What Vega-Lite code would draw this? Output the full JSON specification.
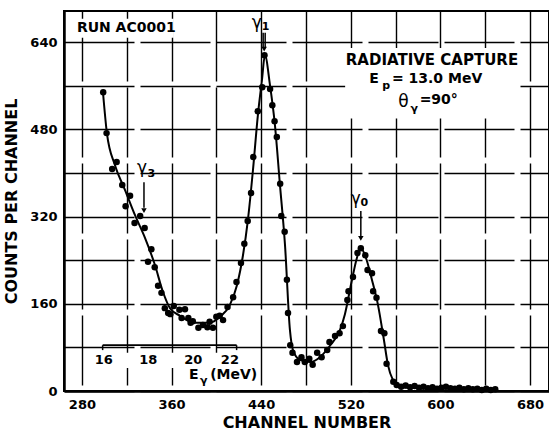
{
  "$schema": "https://vega.github.io/schema/vega-lite/v6.json",
  "width": 485,
  "height": 380,
  "autosize": {"type": "none"},
  "padding": {"left": 64, "top": 11, "right": 0, "bottom": 41},
  "background": "white",
  "config": {
    "font": "DejaVu Sans",
    "view": {"stroke": "black", "strokeWidth": 2},
    "axis": {
      "labelFont": "DejaVu Sans",
      "titleFont": "DejaVu Sans",
      "labelColor": "black",
      "titleColor": "black",
      "labelFontSize": 13,
      "labelFontWeight": "bold",
      "titleFontSize": 16,
      "titleFontWeight": "bold",
      "ticks": false,
      "domainColor": "black",
      "domainWidth": 2.5,
      "grid": true,
      "gridColor": "black",
      "gridOpacity": 1,
      "gridWidth": 1.4,
      "gridDash": [70, 6]
    },
    "text": {"font": "DejaVu Sans", "color": "black", "baseline": "middle", "fontWeight": "bold"}
  },
  "datasets": {
    "counts": [
      {"ch": 299, "n": 548}, {"ch": 302, "n": 473}, {"ch": 307, "n": 407}, {"ch": 311, "n": 420},
      {"ch": 316, "n": 378}, {"ch": 319, "n": 339}, {"ch": 323, "n": 358}, {"ch": 327, "n": 308},
      {"ch": 332, "n": 321}, {"ch": 336, "n": 299}, {"ch": 339, "n": 237}, {"ch": 342, "n": 260},
      {"ch": 345, "n": 227}, {"ch": 348, "n": 193}, {"ch": 351, "n": 180}, {"ch": 354, "n": 152},
      {"ch": 357, "n": 143}, {"ch": 359, "n": 141}, {"ch": 362, "n": 156}, {"ch": 367, "n": 149},
      {"ch": 369, "n": 134}, {"ch": 372, "n": 150}, {"ch": 375, "n": 134}, {"ch": 377, "n": 125},
      {"ch": 379, "n": 128}, {"ch": 384, "n": 116}, {"ch": 388, "n": 121}, {"ch": 392, "n": 117},
      {"ch": 394, "n": 127}, {"ch": 397, "n": 116}, {"ch": 400, "n": 136}, {"ch": 403, "n": 138},
      {"ch": 406, "n": 130}, {"ch": 410, "n": 154}, {"ch": 415, "n": 172}, {"ch": 418, "n": 200},
      {"ch": 422, "n": 235}, {"ch": 425, "n": 270}, {"ch": 428, "n": 312}, {"ch": 431, "n": 363},
      {"ch": 433, "n": 429}, {"ch": 437, "n": 513}, {"ch": 441, "n": 557}, {"ch": 443, "n": 616},
      {"ch": 448, "n": 554}, {"ch": 450, "n": 524}, {"ch": 452, "n": 495}, {"ch": 454, "n": 466},
      {"ch": 457, "n": 380}, {"ch": 458, "n": 321}, {"ch": 461, "n": 292}, {"ch": 463, "n": 204},
      {"ch": 464, "n": 143}, {"ch": 466, "n": 84}, {"ch": 468, "n": 70}, {"ch": 472, "n": 53},
      {"ch": 476, "n": 62}, {"ch": 479, "n": 53}, {"ch": 483, "n": 59}, {"ch": 486, "n": 48},
      {"ch": 490, "n": 70}, {"ch": 494, "n": 62}, {"ch": 499, "n": 75}, {"ch": 501, "n": 90},
      {"ch": 506, "n": 101}, {"ch": 510, "n": 106}, {"ch": 513, "n": 119}, {"ch": 517, "n": 167},
      {"ch": 518, "n": 183}, {"ch": 522, "n": 209}, {"ch": 526, "n": 253}, {"ch": 529, "n": 262},
      {"ch": 533, "n": 249}, {"ch": 535, "n": 222}, {"ch": 539, "n": 216}, {"ch": 540, "n": 183},
      {"ch": 543, "n": 171}, {"ch": 547, "n": 110}, {"ch": 550, "n": 106}, {"ch": 552, "n": 50},
      {"ch": 558, "n": 17}, {"ch": 561, "n": 11}, {"ch": 565, "n": 8}, {"ch": 569, "n": 10},
      {"ch": 573, "n": 7}, {"ch": 577, "n": 9}, {"ch": 581, "n": 6}, {"ch": 585, "n": 8},
      {"ch": 589, "n": 5}, {"ch": 593, "n": 7}, {"ch": 597, "n": 4}, {"ch": 601, "n": 6},
      {"ch": 605, "n": 8}, {"ch": 609, "n": 5}, {"ch": 613, "n": 4}, {"ch": 617, "n": 6},
      {"ch": 621, "n": 3}, {"ch": 625, "n": 5}, {"ch": 629, "n": 3}, {"ch": 633, "n": 4},
      {"ch": 637, "n": 2}, {"ch": 641, "n": 4}, {"ch": 645, "n": 2}, {"ch": 649, "n": 3}
    ],
    "fit": [
      {"ch": 298.8, "n": 548}, {"ch": 302.3, "n": 473}, {"ch": 309.5, "n": 414}, {"ch": 318.4, "n": 369},
      {"ch": 327.3, "n": 323}, {"ch": 336.3, "n": 281}, {"ch": 345.2, "n": 231}, {"ch": 352.3, "n": 182},
      {"ch": 358.6, "n": 152}, {"ch": 367.5, "n": 138}, {"ch": 380.9, "n": 125}, {"ch": 394.3, "n": 125},
      {"ch": 403.2, "n": 136}, {"ch": 412.1, "n": 158}, {"ch": 418.4, "n": 194}, {"ch": 423.8, "n": 249},
      {"ch": 428.2, "n": 314}, {"ch": 432.7, "n": 405}, {"ch": 437.1, "n": 506}, {"ch": 440.7, "n": 570},
      {"ch": 443.4, "n": 616}, {"ch": 447.9, "n": 561}, {"ch": 452.3, "n": 488}, {"ch": 456.8, "n": 378},
      {"ch": 461.3, "n": 268}, {"ch": 465.7, "n": 112}, {"ch": 468.4, "n": 75}, {"ch": 474.6, "n": 57},
      {"ch": 483.6, "n": 53}, {"ch": 492.5, "n": 62}, {"ch": 501.4, "n": 83}, {"ch": 510.4, "n": 112},
      {"ch": 514.8, "n": 141}, {"ch": 521.1, "n": 204}, {"ch": 525.5, "n": 244}, {"ch": 529.1, "n": 262},
      {"ch": 533.6, "n": 244}, {"ch": 538.9, "n": 204}, {"ch": 544.3, "n": 158}, {"ch": 549.6, "n": 94},
      {"ch": 553.2, "n": 48}, {"ch": 557.7, "n": 20}, {"ch": 564, "n": 7}, {"ch": 590.7, "n": 5},
      {"ch": 650.5, "n": 4}
    ],
    "blanks": [
      {"ch": 272, "ch2": 362, "n": 648, "n2": 683},
      {"ch": 515, "ch2": 671, "n": 500, "n2": 629},
      {"ch": 291, "ch2": 420, "n": 42, "n2": 70},
      {"ch": 373, "ch2": 438, "n": 9, "n2": 42}
    ],
    "vrules": [
      {"ch": 441.8, "n": 657, "n2": 630},
      {"ch": 443.6, "n": 657, "n2": 630},
      {"ch": 335.4, "n": 383, "n2": 336},
      {"ch": 529, "n": 330, "n2": 283},
      {"ch": 298.5, "n": 84, "n2": 75},
      {"ch": 418.1, "n": 84, "n2": 75}
    ],
    "hrules": [
      {"ch": 298.5, "ch2": 418.1, "n": 84}
    ],
    "tips": [
      {"ch": 442.7, "n": 627},
      {"ch": 335.4, "n": 331},
      {"ch": 529, "n": 280}
    ],
    "words": [
      {"ch": 275.5, "n": 666, "t": "RUN AC0001"},
      {"ch": 536.5, "n": 572, "t": "E"},
      {"ch": 556.8, "n": 572, "t": "= 13.0 MeV"},
      {"ch": 581.5, "n": 533, "t": "=90°"},
      {"ch": 375.5, "n": 29, "t": "E"},
      {"ch": 394.5, "n": 29, "t": "(MeV)"}
    ],
    "heading": [
      {"ch": 592.5, "n": 607, "t": "RADIATIVE CAPTURE"}
    ],
    "energy": [
      {"ch": 299.6, "n": 57, "t": "16"},
      {"ch": 339.2, "n": 57, "t": "18"},
      {"ch": 379.4, "n": 57, "t": "20"},
      {"ch": 412.1, "n": 57, "t": "22"}
    ],
    "greek": [
      {"ch": 436.1, "n": 675, "t": "γ"},
      {"ch": 333.6, "n": 409, "t": "γ"},
      {"ch": 524.6, "n": 352, "t": "γ"},
      {"ch": 567.0, "n": 530, "t": "θ"}
    ],
    "subs": [
      {"ch": 443.9, "n": 667, "t": "1"},
      {"ch": 342.0, "n": 398, "t": "3"},
      {"ch": 532.2, "n": 345, "t": "0"},
      {"ch": 551.6, "n": 559, "t": "p"},
      {"ch": 576.6, "n": 517, "t": "γ"},
      {"ch": 388.8, "n": 18, "t": "γ"}
    ]
  },
  "layer": [
    {
      "data": {"name": "blanks"},
      "mark": {"type": "rect", "color": "white"},
      "encoding": {
        "x": {
          "field": "ch", "type": "quantitative",
          "scale": {"domain": [264, 697], "nice": false, "zero": false},
          "axis": {
            "values": [280, 320, 360, 400, 440, 480, 520, 560, 600, 640, 680],
            "labelExpr": "datum.value % 80 == 40 ? datum.label : ''",
            "labelPadding": 7,
            "title": "CHANNEL NUMBER",
            "titlePadding": 3
          }
        },
        "x2": {"field": "ch2"},
        "y": {
          "field": "n", "type": "quantitative",
          "scale": {"domain": [0, 697], "nice": false},
          "axis": {
            "values": [0, 80, 160, 240, 320, 400, 480, 560, 640],
            "labelExpr": "datum.value % 160 == 0 ? datum.label : ''",
            "labelPadding": 7,
            "title": "COUNTS PER CHANNEL",
            "titlePadding": 10
          }
        },
        "y2": {"field": "n2"}
      }
    },
    {
      "data": {"name": "fit"},
      "mark": {"type": "line", "color": "black", "strokeWidth": 2, "interpolate": "monotone"},
      "encoding": {
        "x": {"field": "ch", "type": "quantitative"},
        "y": {"field": "n", "type": "quantitative"}
      }
    },
    {
      "data": {"name": "counts"},
      "mark": {"type": "circle", "color": "black", "size": 42, "opacity": 1},
      "encoding": {
        "x": {"field": "ch", "type": "quantitative"},
        "y": {"field": "n", "type": "quantitative"}
      }
    },
    {
      "data": {"name": "vrules"},
      "mark": {"type": "rule", "color": "black", "strokeWidth": 1.5},
      "encoding": {
        "x": {"field": "ch", "type": "quantitative"},
        "y": {"field": "n", "type": "quantitative"},
        "y2": {"field": "n2"}
      }
    },
    {
      "data": {"name": "hrules"},
      "mark": {"type": "rule", "color": "black", "strokeWidth": 1.8},
      "encoding": {
        "x": {"field": "ch", "type": "quantitative"},
        "x2": {"field": "ch2"},
        "y": {"field": "n", "type": "quantitative"}
      }
    },
    {
      "data": {"name": "tips"},
      "mark": {"type": "point", "shape": "triangle-down", "filled": true, "color": "black", "size": 30, "opacity": 1},
      "encoding": {
        "x": {"field": "ch", "type": "quantitative"},
        "y": {"field": "n", "type": "quantitative"}
      }
    },
    {
      "data": {"name": "words"},
      "mark": {"type": "text", "align": "left", "fontSize": 14},
      "encoding": {
        "x": {"field": "ch", "type": "quantitative"},
        "y": {"field": "n", "type": "quantitative"},
        "text": {"field": "t"}
      }
    },
    {
      "data": {"name": "heading"},
      "mark": {"type": "text", "align": "center", "fontSize": 15},
      "encoding": {
        "x": {"field": "ch", "type": "quantitative"},
        "y": {"field": "n", "type": "quantitative"},
        "text": {"field": "t"}
      }
    },
    {
      "data": {"name": "energy"},
      "mark": {"type": "text", "align": "center", "fontSize": 13},
      "encoding": {
        "x": {"field": "ch", "type": "quantitative"},
        "y": {"field": "n", "type": "quantitative"},
        "text": {"field": "t"}
      }
    },
    {
      "data": {"name": "greek"},
      "mark": {"type": "text", "align": "center", "fontSize": 17, "fontWeight": "normal"},
      "encoding": {
        "x": {"field": "ch", "type": "quantitative"},
        "y": {"field": "n", "type": "quantitative"},
        "text": {"field": "t"}
      }
    },
    {
      "data": {"name": "subs"},
      "mark": {"type": "text", "align": "center", "fontSize": 11},
      "encoding": {
        "x": {"field": "ch", "type": "quantitative"},
        "y": {"field": "n", "type": "quantitative"},
        "text": {"field": "t"}
      }
    }
  ]
}
